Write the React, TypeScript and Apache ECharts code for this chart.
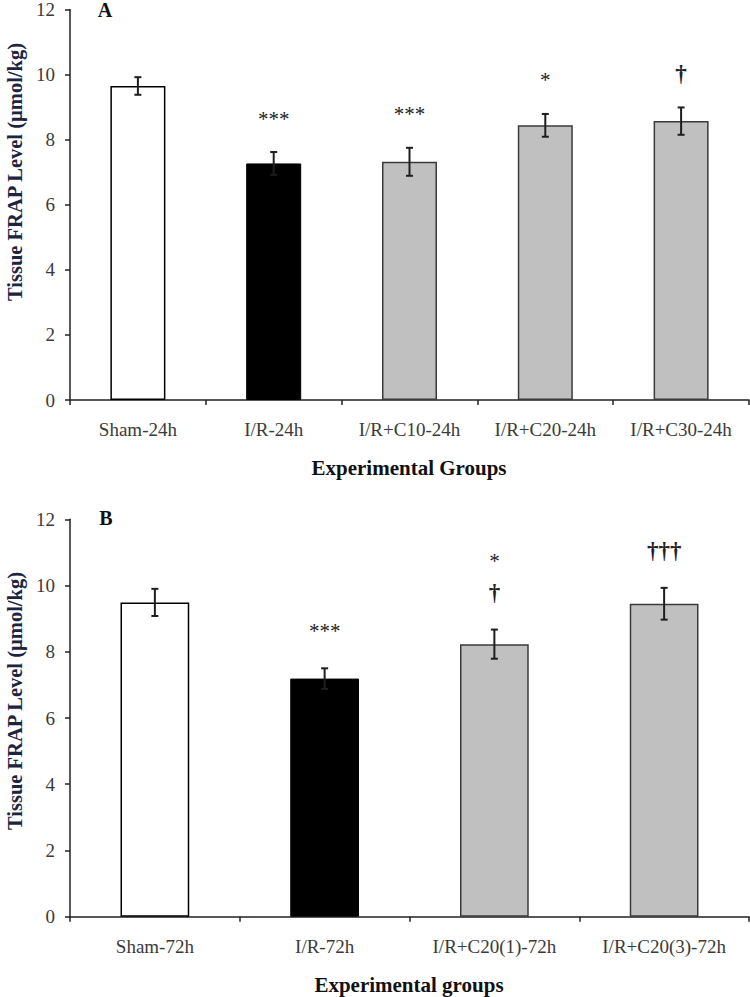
import React, { useEffect, useRef } from "react";
import * as echarts from "echarts";

const categoriesA = ["Sham-24h", "I/R-24h", "I/R+C10-24h", "I/R+C20-24h", "I/R+C30-24h"];
const meansA = [9.65, 7.27, 7.32, 8.44, 8.57];
const errorsA = [0.27, 0.35, 0.43, 0.35, 0.42];
const signifA = ["", "***", "***", "*", "†"];

const categoriesB = ["Sham-72h", "I/R-72h", "I/R+C20(1)-72h", "I/R+C20(3)-72h"];
const meansB = [9.49, 7.19, 8.23, 9.45];
const errorsB = [0.41, 0.31, 0.44, 0.48];
const signifB = ["", "***", "*\n†", "†††"];

const yTicks = [0, 2, 4, 6, 8, 10, 12];
const yTitle = "Tissue FRAP Level (µmol/kg)";
const xTitleA = "Experimental Groups";
const xTitleB = "Experimental groups";

const SERIF = "'Liberation Serif', 'Times New Roman', Times, serif";

function barFill(i: number) {
  if (i === 0) return { color: "#ffffff", borderColor: "#000000", borderWidth: 1.5 };
  if (i === 1) return { color: "#000000", borderColor: "#000000", borderWidth: 1 };
  return { color: "#c0c0c0", borderColor: "#3a3a3a", borderWidth: 1.5 };
}

function errorRender(params: any, api: any) {
  const x = api.value(0);
  const m = api.value(1);
  const e = api.value(2);
  const hi = api.coord([x, m + e]);
  const lo = api.coord([x, m - e]);
  const cap = 3.5;
  const st = { stroke: "#1e1e1e", lineWidth: 2 };
  return {
    type: "group",
    children: [
      { type: "line", shape: { x1: hi[0], y1: hi[1], x2: lo[0], y2: lo[1] }, style: st },
      { type: "line", shape: { x1: hi[0] - cap, y1: hi[1], x2: hi[0] + cap, y2: hi[1] }, style: st },
      { type: "line", shape: { x1: lo[0] - cap, y1: lo[1], x2: lo[0] + cap, y2: lo[1] }, style: st },
    ],
  };
}

function makeSigRender(labels: string[], gap: number) {
  return (params: any, api: any) => {
    const i = api.value(0);
    const top = api.value(1) + api.value(2);
    const p = api.coord([i, top]);
    const txt = (labels[i] || "").replace(/(†+)/g, "{d|$1}").replace(/(\*+)/g, "{s|$1}");
    return {
      type: "text",
      x: p[0],
      y: p[1] - gap,
      style: {
        text: txt,
        align: "center",
        verticalAlign: "bottom",
        fontFamily: SERIF,
        fontSize: 20,
        lineHeight: 31,
        fill: "#222",
        rich: {
          d: { fontFamily: SERIF, fontSize: 23, fontWeight: "bold", lineHeight: 31, fill: "#222" },
          s: { fontFamily: SERIF, fontSize: 21, lineHeight: 31, fill: "#222" },
        },
      },
    };
  };
}

function xAxis(cats: string[], gridIndex: number) {
  return {
    type: "category",
    gridIndex,
    data: cats,
    axisLine: { lineStyle: { color: "#222", width: 1.5 } },
    axisTick: { show: true, length: 5, lineStyle: { color: "#222", width: 1.5 } },
    axisLabel: { color: "#3a3a3a", fontFamily: SERIF, fontSize: 19, margin: 20 },
  };
}

function yAxis(gridIndex: number) {
  return {
    type: "value",
    gridIndex,
    min: yTicks[0],
    max: yTicks[yTicks.length - 1],
    interval: yTicks[1] - yTicks[0],
    axisLine: { show: true, lineStyle: { color: "#222", width: 1.5 } },
    axisTick: { show: true, length: 5, lineStyle: { color: "#222", width: 1.5 } },
    axisLabel: { color: "#3a3a3a", fontFamily: SERIF, fontSize: 19, margin: 15 },
    splitLine: { show: false },
  };
}

export default function App() {
  const ref = useRef<HTMLDivElement>(null);
  useEffect(() => {
    const chart = echarts.init(ref.current!, null, { renderer: "svg" });
    const dataA = meansA.map((m, i) => [i, m, errorsA[i]]);
    const dataB = meansB.map((m, i) => [i, m, errorsB[i]]);
    const option: any = {
      animation: false,
      backgroundColor: "#ffffff",
      grid: [
        { left: 70, top: 7.5, width: 679, height: 392.5 },
        { left: 70, top: 519.3, width: 679, height: 397.4 },
      ],
      xAxis: [xAxis(categoriesA, 0), xAxis(categoriesB, 1)],
      yAxis: [yAxis(0), yAxis(1)],
      series: [
        {
          type: "bar",
          xAxisIndex: 0,
          yAxisIndex: 0,
          barWidth: "40.5%",
          data: meansA.map((v, i) => ({ value: v, itemStyle: barFill(i) })),
        },
        {
          type: "custom",
          xAxisIndex: 0,
          yAxisIndex: 0,
          renderItem: errorRender,
          data: dataA,
          z: 5,
        },
        {
          type: "custom",
          xAxisIndex: 0,
          yAxisIndex: 0,
          renderItem: makeSigRender(signifA, 18),
          data: dataA,
          z: 5,
        },
        {
          type: "bar",
          xAxisIndex: 1,
          yAxisIndex: 1,
          barWidth: "40.5%",
          data: meansB.map((v, i) => ({ value: v, itemStyle: barFill(i) })),
        },
        {
          type: "custom",
          xAxisIndex: 1,
          yAxisIndex: 1,
          renderItem: errorRender,
          data: dataB,
          z: 5,
        },
        {
          type: "custom",
          xAxisIndex: 1,
          yAxisIndex: 1,
          renderItem: makeSigRender(signifB, 22),
          data: dataB,
          z: 5,
        },
      ],
      graphic: [
        {
          type: "text",
          x: 105,
          y: 10,
          style: { text: "A", fontFamily: SERIF, fontWeight: "bold", fontSize: 20, fill: "#111", align: "center", verticalAlign: "middle" },
        },
        {
          type: "text",
          x: 106,
          y: 518,
          style: { text: "B", fontFamily: SERIF, fontWeight: "bold", fontSize: 20, fill: "#111", align: "center", verticalAlign: "middle" },
        },
        {
          type: "text",
          x: 15,
          y: 172,
          rotation: Math.PI / 2,
          style: { text: yTitle, fontFamily: SERIF, fontWeight: "bold", fontSize: 20.5, fill: "#1c2540", align: "center", verticalAlign: "middle" },
        },
        {
          type: "text",
          x: 15,
          y: 701,
          rotation: Math.PI / 2,
          style: { text: yTitle, fontFamily: SERIF, fontWeight: "bold", fontSize: 20.5, fill: "#1c2540", align: "center", verticalAlign: "middle" },
        },
        {
          type: "text",
          x: 409,
          y: 468,
          style: { text: xTitleA, fontFamily: SERIF, fontWeight: "bold", fontSize: 21, fill: "#111", align: "center", verticalAlign: "middle" },
        },
        {
          type: "text",
          x: 409,
          y: 985,
          style: { text: xTitleB, fontFamily: SERIF, fontWeight: "bold", fontSize: 21, fill: "#111", align: "center", verticalAlign: "middle" },
        },
      ],
    };
    chart.setOption(option);
    return () => chart.dispose();
  }, []);
  return (
    <div
      ref={ref}
      style={{ position: "fixed", left: 0, top: 0, width: 750, height: 997, background: "#ffffff" }}
    />
  );
}
